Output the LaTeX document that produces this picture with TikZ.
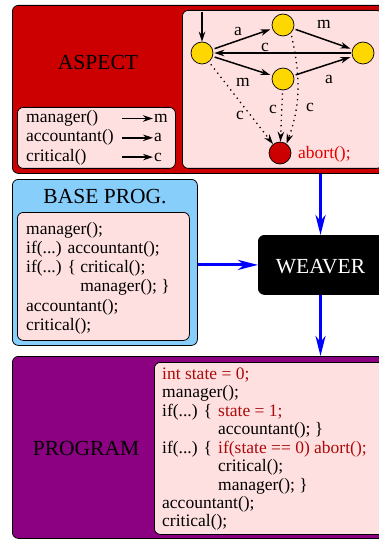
\documentclass[tikz,border=0pt]{standalone}
\usepackage{fontspec}
\setmainfont{Liberation Serif}
\usetikzlibrary{arrows.meta}
\definecolor{aspred}{RGB}{204,0,0}
\definecolor{lpink}{RGB}{255,224,224}
\definecolor{lblue}{RGB}{135,206,250}
\definecolor{purp}{RGB}{140,0,130}
\definecolor{dred}{RGB}{170,10,10}
\definecolor{brred}{RGB}{225,0,0}
\definecolor{stgold}{RGB}{255,215,0}
\begin{document}
\begin{tikzpicture}[x=1pt,y=-1pt,
  box/.style={draw=black, line width=0.8pt, rounded corners=6pt, inner sep=0pt, anchor=north west},
  title/.style={font=\fontsize{21.5}{24}\selectfont, anchor=base, inner sep=0pt},
  code/.style={font=\fontsize{17.5}{19.3}\selectfont, align=left, anchor=base west, inner sep=0pt},
  pcode/.style={font=\fontsize{17.5}{18.45}\selectfont, align=left, anchor=base west, inner sep=0pt},
  state/.style={circle, draw=black, line width=0.7pt, fill=stgold, minimum size=22pt, inner sep=0pt},
  lbl/.style={font=\fontsize{17.5}{20}\selectfont, inner sep=0pt},
  edge/.style={line width=1.5pt, -{Stealth[length=10pt,width=6.5pt]}},
  dedge/.style={line width=1.3pt, dash pattern=on 1.3pt off 4pt, -{Stealth[length=10pt,width=6.5pt]}, shorten <=3pt},
  weave/.style={blue, line width=3pt, -{Stealth[length=20pt,width=10pt,inset=6pt]}}
]
\useasboundingbox (0,0) rectangle (378,540);
% boxes
\node[box, fill=aspred, minimum width=390pt, minimum height=168pt] (aspect) at (12,5) {};
\node[box, fill=lpink, minimum width=200pt, minimum height=158pt] (graph) at (182,10) {};
\node[box, fill=lpink, minimum width=158pt, minimum height=61pt] (legend) at (17,107) {};
\node[box, fill=lblue, minimum width=185pt, minimum height=166pt] (base) at (12,179) {};
\node[box, fill=lpink, minimum width=172pt, minimum height=128pt] (basecode) at (17,212) {};
\node[box, fill=black, minimum width=140pt, minimum height=59pt] (weaver) at (258,235) {};
\node[box, fill=purp, minimum width=390pt, minimum height=182pt] (program) at (12,356) {};
\node[box, fill=lpink, minimum width=240pt, minimum height=172pt] (progcode) at (154,362) {};
% titles
\node[title] (tasp) at (98,70) {ASPECT};
\node[title] (tbase) at (105,203.3) {BASE PROG.};
\node[title, text=white] (twv) at (320.5,273) {WEAVER};
\node[title] (tprog) at (86,455) {PROGRAM};
% legend (anchor = baseline of last line)
\node[code] (lcode) at (26,161.3) {manager()\\accountant()\\critical()};
\node[lbl, anchor=base west] (lm) at (154,122.7) {m};
\node[lbl, anchor=base west] (la) at (154,142) {a};
\node[lbl, anchor=base west] (lc) at (154,161.3) {c};
\coordinate (s1) at (122,118.5);
\coordinate (s2) at (122,137.8);
\coordinate (s3) at (122,157.1);
\draw[edge, shorten >=1pt] (s1) -- (lm.west |- s1);
\draw[edge, shorten >=1pt] (s2) -- (la.west |- s2);
\draw[edge, shorten >=1pt] (s3) -- (lc.west |- s3);
% base code
\node[code] (bcode) at (26,330.5) {manager();\\
if(...) accountant();\\
if(...) \{ critical();\\
\phantom{if(...) \{ }manager(); \}\\
accountant();\\
critical();};
% program code
\node[pcode] (pcodetext) at (162,526.9) {\textcolor{dred}{int state = 0;}\\
manager();\\
\makebox[56pt][l]{if(...) \{}\textcolor{dred}{state = 1;}\\
\hspace*{56pt}accountant(); \}\\
\makebox[56pt][l]{if(...) \{}\textcolor{dred}{if(state == 0) abort();}\\
\hspace*{56pt}critical();\\
\hspace*{56pt}manager(); \}\\
accountant();\\
critical();};
% graph
\node[state] (L) at (202,53) {};
\node[state] (T) at (283,25) {};
\node[state] (R) at (363,53) {};
\node[state] (M) at (283,79) {};
\node[state, fill=aspred] (A) at (280,153) {};
\node[lbl, anchor=base west, text=brred] (abt) at (298,158) {abort();};
\coordinate (init) at (202,12);
\draw[edge] (init) -- (L);
\draw[edge, shorten <=2pt, shorten >=2pt] (L) -- (T);
\draw[edge, shorten <=2pt, shorten >=2pt] (T) -- (R);
\draw[edge, shorten <=1pt, shorten >=1pt] (R) -- (L);
\draw[edge, shorten <=2pt, shorten >=2pt] (L) -- (M);
\draw[edge, shorten <=2pt, shorten >=2pt] (M) -- (R);
\draw[dedge] (L) -- (A);
\draw[dedge] (M) -- (A);
\draw[dedge] (T.-45) to[out=-78, in=70] (A.55);
\node[lbl] (e1) at (238,31) {a};
\node[lbl] (e2) at (324,24) {m};
\node[lbl] (e3) at (265,47) {c};
\node[lbl] (e4) at (243,82) {m};
\node[lbl] (e5) at (329,79) {a};
\node[lbl] (e6) at (240,115) {c};
\node[lbl] (e7) at (273,109) {c};
\node[lbl] (e8) at (310,107) {c};
% weaver arrows
\draw[weave] (twv.center |- aspect.south) -- (twv.center |- weaver.north);
\draw[weave] (weaver.west -| base.east) -- (weaver.west);
\draw[weave] (twv.center |- weaver.south) -- (twv.center |- program.north);
\end{tikzpicture}
\end{document}
